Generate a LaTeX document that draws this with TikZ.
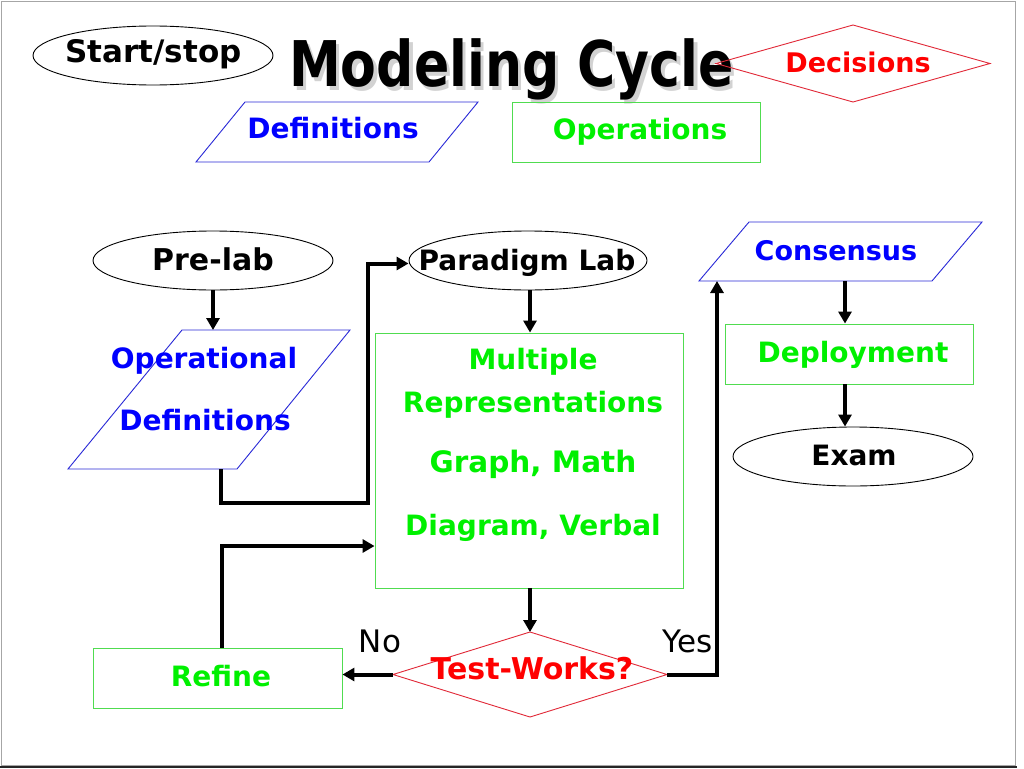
\documentclass[tikz,border=0pt]{standalone}
\usepackage{graphicx}
\usepackage{fontspec}
\setmainfont{DejaVu Sans}
\usetikzlibrary{shapes.geometric,arrows.meta,calc}
\definecolor{tblue}{RGB}{0,0,255}
\definecolor{tgreen}{RGB}{0,240,0}
\definecolor{tred}{RGB}{255,0,0}
\definecolor{lblue}{RGB}{40,40,215}
\definecolor{lgreen}{RGB}{80,220,80}
\definecolor{lred}{RGB}{225,40,55}
\begin{document}
\begin{tikzpicture}[x=1pt,y=-1pt,
  ell/.style={ellipse, draw=black, line width=0.9pt, minimum width=240pt, minimum height=59pt, inner sep=0pt},
  gbox/.style={rectangle, draw=lgreen, line width=0.9pt, inner sep=0pt},
  hold/.style={rectangle, inner sep=0pt, outer sep=0pt},
  pgram/.style={draw=lblue, line width=0.9pt},
  dia/.style={draw=lred, line width=0.9pt},
  lbl/.style={anchor=base, inner sep=0pt, font=\fontsize{#1}{#1}\selectfont\bfseries},
  lbl/.default=28,
  plain/.style={anchor=base, inner sep=0pt, font=\fontsize{31}{31}\selectfont},
  conn/.style={line width=4pt, -{Triangle[length=12pt,width=13pt]}}
]
\useasboundingbox (0,0) rectangle (1024,768);
\fill[white] (0,0) rectangle (1024,768);
% slide frame
\draw[gray!70, line width=1.2pt] (1.5,1.5) rectangle (1015.5,766);
\draw[black!85, line width=2.5pt] (0,767) -- (1017,767);

% title with shadow
\node[anchor=base, inner sep=0pt, font=\fontsize{63}{63}\selectfont\bfseries, text=black] (title) at (511.5,86)
  {\scalebox{0.827}[1]{\rlap{\kern4pt\raisebox{-4pt}{\textcolor{gray!35}{Modeling Cycle}}}Modeling Cycle}};

% legend
\node[ell] (startstop) at (153,55.5) {};
\node[lbl=31] (t-startstop) at (153.5,63) {Start/stop};

\node[hold, minimum width=282pt, minimum height=60pt] (defs) at (337,132) {};
\draw[pgram] (defs.south west) -- ([xshift=49pt]defs.north west) -- (defs.north east) -- ([xshift=-49pt]defs.south east) -- cycle;
\node[lbl, text=tblue] (t-defs) at (333,138) {Definitions};

\node[gbox, minimum width=248pt, minimum height=60pt] (ops) at (636,132) {};
\node[lbl, text=tgreen] (t-ops) at (640,139) {Operations};

\node[hold, minimum width=274pt, minimum height=77pt] (dec) at (853,63.5) {};
\draw[dia] (dec.west) -- (dec.north) -- (dec.east) -- (dec.south) -- cycle;
\node[lbl=27, text=tred] (t-dec) at (858,72) {Decisions};

% flow
\node[ell] (prelab) at (213,260.5) {};
\node[lbl=30] (t-prelab) at (213,270) {Pre-lab};

\node[hold, minimum width=282pt, minimum height=139pt] (opdef) at (209,399.5) {};
\draw[pgram] (opdef.south west) -- ([xshift=114pt]opdef.north west) -- (opdef.north east) -- ([xshift=-113pt]opdef.south east) -- cycle;
\node[lbl, text=tblue] (t-opdef1) at (204,368) {Operational};
\node[lbl, text=tblue] (t-opdef2) at (205,430) {Definitions};

\node[ell, minimum width=238pt] (paradigm) at (528,260.5) {};
\node[lbl] (t-paradigm) at (527,270) {Paradigm Lab};

\node[gbox, minimum width=308pt, minimum height=255pt] (multi) at (529,460.5) {};
\node[lbl, text=tgreen] (t-multi1) at (533,369) {Multiple};
\node[lbl, text=tgreen] (t-multi2) at (533,412) {Representations};
\node[lbl=29.5, text=tgreen] (t-multi3) at (533,472) {Graph, Math};
\node[lbl, text=tgreen] (t-multi4) at (533,535) {Diagram, Verbal};

\node[hold, minimum width=274pt, minimum height=85pt] (test) at (530,674.5) {};
\draw[dia] (test.west) -- (test.north) -- (test.east) -- (test.south) -- cycle;
\node[lbl=30, text=tred] (t-test) at (532,679) {Test-Works?};

\node[gbox, minimum width=249pt, minimum height=60pt] (refine) at (217.5,678) {};
\node[lbl, text=tgreen] (t-refine) at (221,686) {Refine};

\node[hold, minimum width=283pt, minimum height=59pt] (cons) at (840.5,251.5) {};
\draw[pgram] (cons.south west) -- ([xshift=50pt]cons.north west) -- (cons.north east) -- ([xshift=-50pt]cons.south east) -- cycle;
\node[lbl=27, text=tblue] (t-cons) at (836,260) {Consensus};

\node[gbox, minimum width=248pt, minimum height=60pt] (deploy) at (849,354) {};
\node[lbl, text=tgreen] (t-deploy) at (853,362) {Deployment};

\node[ell] (exam) at (853,456.5) {};
\node[lbl] (t-exam) at (854,465) {Exam};

\node[plain] (t-no) at (380,652) {No};
\node[plain] (t-yes) at (688,652) {Yes};

% connectors
\coordinate (jp) at (368,503);
\coordinate (jr) at (222,546);
\draw[conn] (prelab.south) -- (prelab.south |- opdef.north);
\draw[conn] ([xshift=12pt]opdef.south) |- (jp) |- ([yshift=-3pt]paradigm.west);
\draw[conn] ([xshift=2pt]paradigm.south) -- ([xshift=2pt]paradigm.south |- multi.north);
\draw[conn] ([xshift=1pt]multi.south) -- ([xshift=1pt]multi.south |- test.north);
\draw[conn] (test.west) -- (test.west -| refine.east);
\draw[conn] ([xshift=4.5pt]refine.north) |- (multi.west |- jr);
\draw[conn] (test.east) -| ([xshift=18pt]cons.south west);
\draw[conn] ([xshift=-4pt]deploy.north |- cons.south) -- ([xshift=-4pt]deploy.north);
\draw[conn] ([xshift=-4pt]deploy.south) -- ([xshift=-4pt]deploy.south |- exam.north);
\end{tikzpicture}
\end{document}
